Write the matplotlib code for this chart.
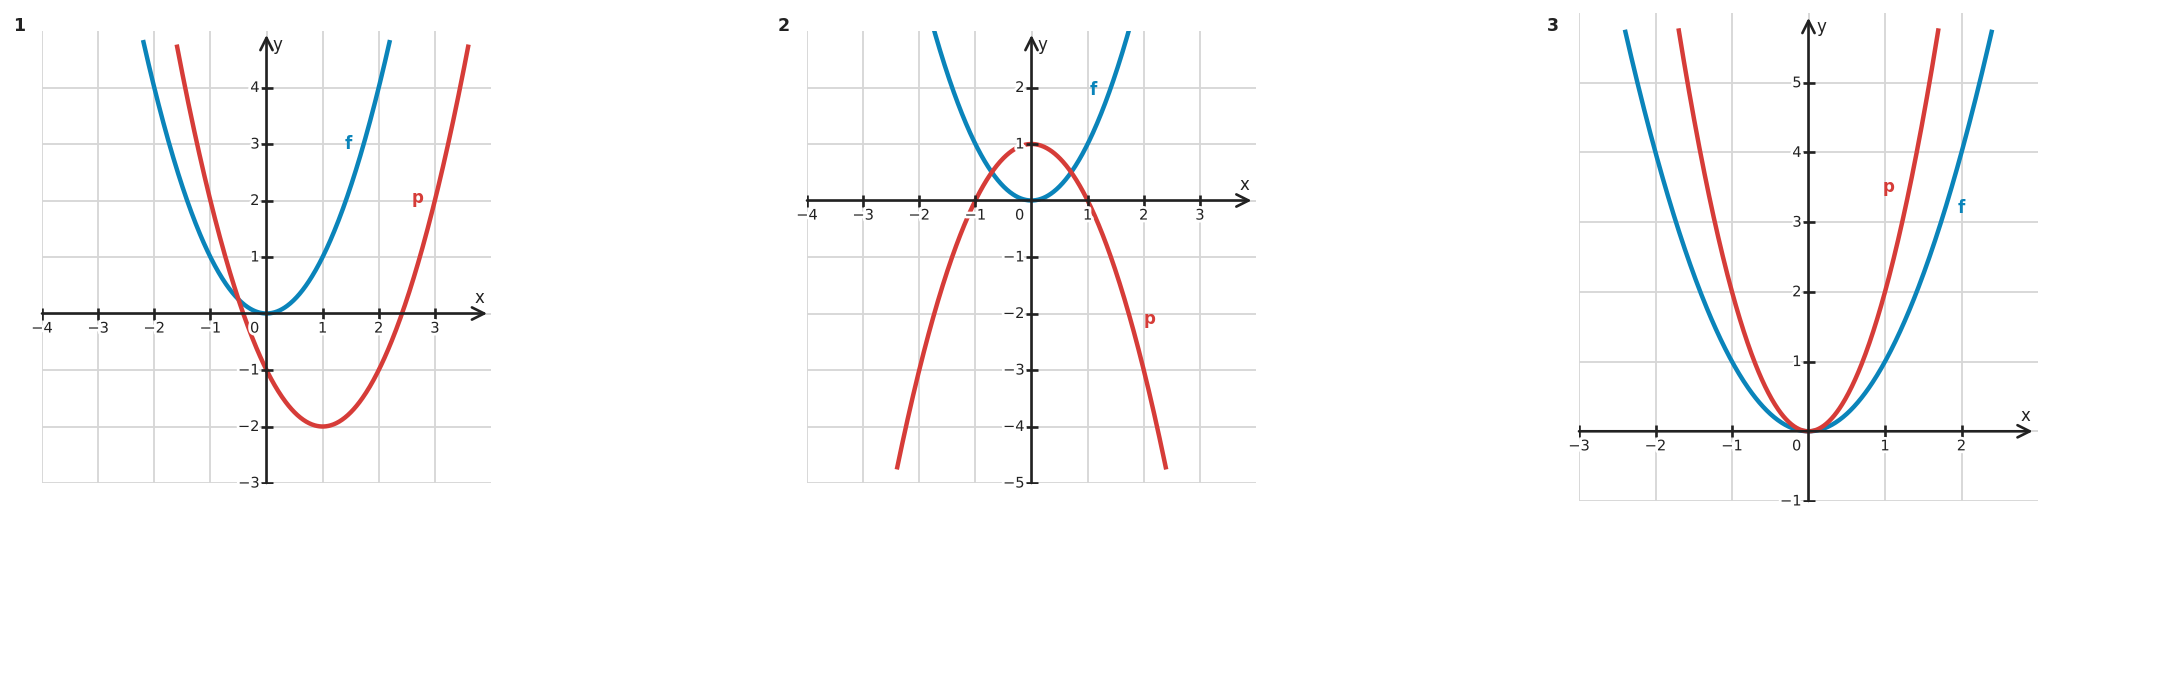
import matplotlib.pyplot as plt
import matplotlib.patheffects as pe
import numpy as np

W, H = 2163, 696
BLUE = "#0a84ba"
RED = "#d63c38"
INK = "#222222"
GRID = "#d6d6d6"
MINUS = "\u2212"

# panel numbers
panel_names = ["1", "2", "3"]

# axis ranges per panel
x_limits = [(-4, 4), (-4, 4), (-3, 3)]
y_limits = [(-3, 5), (-5, 3), (-1, 6)]

# tick values per panel
x_ticks = [[-4, -3, -2, -1, 1, 2, 3], [-4, -3, -2, -1, 1, 2, 3], [-3, -2, -1, 1, 2]]
y_ticks = [[-3, -2, -1, 1, 2, 3, 4], [-5, -4, -3, -2, -1, 1, 2], [-1, 1, 2, 3, 4, 5]]

# polynomial coefficients (highest power first) and plotted x-range
f_coef = [[1, 0, 0], [1, 0, 0], [1, 0, 0]]
f_range = [(-2.2, 2.2), (-1.8, 1.8), (-2.4, 2.4)]
p_coef = [[1, -2, -1], [-1, 0, 1], [2, 0, 0]]
p_range = [(-1.6, 3.6), (-2.4, 2.4), (-1.7, 1.7)]

# curve label positions
f_label = [(1.45, 3.0), (1.1, 1.95), (2.0, 3.2)]
p_label = [(2.7, 2.05), (2.1, -2.1), (1.05, 3.5)]

# axis label / arrow tip positions
x_tip = [3.93, 3.92, 2.93]
y_tip = [4.93, 2.93, 5.93]
x_name = [(3.8, 0.27), (3.8, 0.27), (2.84, 0.22)]
y_name = [(0.2, 4.75), (0.2, 2.75), (0.17, 5.8)]

# axes boxes in pixels: left, top, right, bottom
boxes = [(42, 31, 491, 483), (807, 31, 1256, 483), (1579, 13, 2038, 501)]
name_pos = [(19, 26), (784, 26), (1553, 26)]

fig = plt.figure(figsize=(W / 100, H / 100), dpi=100)
halo = [pe.withStroke(linewidth=4, foreground="white")]


def fmt(v):
    return str(v).replace("-", MINUS)


for i in range(3):
    l, t, r, b = boxes[i]
    ax = fig.add_axes([l / W, 1 - b / H, (r - l) / W, (b - t) / H])
    ax.set_xlim(*x_limits[i])
    ax.set_ylim(*y_limits[i])
    for s in ax.spines.values():
        s.set_visible(False)
    ax.set_xticks([])
    ax.set_yticks([])

    # grid
    for gx in range(x_limits[i][0], x_limits[i][1]):
        ax.axvline(gx, color=GRID, lw=1.3, zorder=0)
    for gy in range(y_limits[i][0], y_limits[i][1]):
        ax.axhline(gy, color=GRID, lw=1.3, zorder=0)

    # curves
    xs = np.linspace(*f_range[i], 400)
    ax.plot(xs, np.polyval(f_coef[i], xs), color=BLUE, lw=3.2, zorder=2,
            solid_capstyle="butt")
    xs = np.linspace(*p_range[i], 400)
    ax.plot(xs, np.polyval(p_coef[i], xs), color=RED, lw=3.2, zorder=2,
            solid_capstyle="butt")

    # axes with arrows
    x0 = x_limits[i][0]
    y0 = y_limits[i][0]
    ax.annotate("", xy=(x_tip[i], 0), xytext=(x0, 0),
                arrowprops=dict(arrowstyle="->", lw=1.9, color=INK,
                                mutation_scale=22, shrinkA=0, shrinkB=0),
                zorder=3)
    ax.annotate("", xy=(0, y_tip[i]), xytext=(0, y0),
                arrowprops=dict(arrowstyle="->", lw=1.9, color=INK,
                                mutation_scale=22, shrinkA=0, shrinkB=0),
                zorder=3)

    # tick marks
    ax.plot(x_ticks[i], [0] * len(x_ticks[i]), ls="none", marker="|",
            ms=9, mew=1.9, color=INK, zorder=3)
    ax.plot([0] * len(y_ticks[i]), y_ticks[i], ls="none", marker="_",
            ms=9, mew=1.9, color=INK, zorder=3)

    # tick labels
    for v in x_ticks[i]:
        ax.annotate(fmt(v), (v, 0), xytext=(0, -10.5), textcoords="offset points",
                    ha="center", va="center", fontsize=10.5, color=INK,
                    path_effects=halo, zorder=5)
    for v in y_ticks[i]:
        ax.annotate(fmt(v), (0, v), xytext=(-5, 0), textcoords="offset points",
                    ha="right", va="center", fontsize=10.5, color=INK,
                    path_effects=halo, zorder=5)
    ax.annotate("0", (0, 0), xytext=(-8.5, -10.5), textcoords="offset points",
                ha="center", va="center", fontsize=10.5, color=INK,
                path_effects=halo, zorder=5)

    ax.text(*x_name[i], "x", fontsize=12, color=INK, ha="center", va="center")
    ax.text(*y_name[i], "y", fontsize=12, color=INK, ha="center", va="center")

    ax.text(*f_label[i], "f", fontsize=12, color=BLUE, weight="bold",
            ha="center", va="center")
    ax.text(*p_label[i], "p", fontsize=12, color=RED, weight="bold",
            ha="center", va="center")

    fig.text(name_pos[i][0] / W, 1 - name_pos[i][1] / H, panel_names[i],
             fontsize=12.5, weight="bold", color=INK, ha="center", va="center")

fig.savefig("out.png", dpi=100)
